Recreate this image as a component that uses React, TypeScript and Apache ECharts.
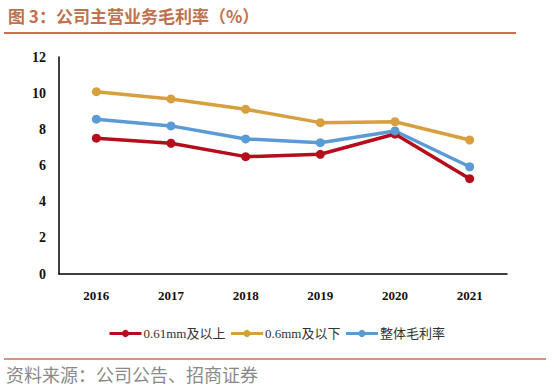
import React, { useEffect, useRef } from "react";
import * as echarts from "echarts";

const years = ["2016", "2017", "2018", "2019", "2020", "2021"];
const above061 = [7.51, 7.23, 6.49, 6.62, 7.74, 5.27];
const below06 = [10.08, 9.68, 9.11, 8.37, 8.42, 7.41];
const overall = [8.56, 8.19, 7.47, 7.26, 7.91, 5.93];
const seriesNames = ["0.61mm及以上", "0.6mm及以下", "整体毛利率"];
const colors = ["#b50d1c", "#d6a03f", "#5b9bd5"];

export default function App() {
  const ref = useRef<HTMLDivElement>(null);
  useEffect(() => {
    if (!ref.current) return;
    const chart = echarts.init(ref.current, null, { renderer: "svg" });
    const datas = [above061, below06, overall];
    chart.setOption({
      animation: false,
      backgroundColor: "#fff",
      grid: { left: 59, right: 47, top: 57, bottom: 113, containLabel: false },
      graphic: [
        {
          type: "text",
          left: 8,
          top: 7,
          style: {
            text: "图 3：公司主营业务毛利率（%）",
            fill: "#c0714c",
            font: "bold 17px Noto Sans CJK SC, sans-serif",
          },
        },
        {
          type: "line",
          shape: { x1: 4, y1: 33, x2: 516, y2: 33 },
          style: { stroke: "#c8724f", lineWidth: 2 },
        },
        {
          type: "line",
          shape: { x1: 4, y1: 359, x2: 546, y2: 359 },
          style: { stroke: "#c8724f", lineWidth: 1.5 },
        },
        {
          type: "text",
          left: 6,
          top: 365,
          style: {
            text: "资料来源：公司公告、招商证券",
            fill: "#8a8a8a",
            font: "18px Noto Sans CJK SC, sans-serif",
          },
        },
      ],
      legend: {
        left: 103,
        top: 322,
        itemWidth: 32,
        itemHeight: 9,
        itemGap: 4,
        data: seriesNames,
        lineStyle: { width: 3 },
        textStyle: {
          fontSize: 13,
          color: "#333",
          fontFamily: "Liberation Serif, Noto Sans CJK SC, serif",
          padding: [0, 0, 0, -3],
        },
      },
      xAxis: {
        type: "category",
        data: years,
        boundaryGap: true,
        axisLine: { lineStyle: { color: "#000", width: 1.5 } },
        axisTick: { show: false },
        axisLabel: {
          color: "#111",
          fontSize: 13,
          fontWeight: "bold",
          fontFamily: "Liberation Serif, serif",
          margin: 15,
        },
      },
      yAxis: {
        type: "value",
        min: 0,
        max: 12,
        interval: 2,
        axisLine: { show: true, lineStyle: { color: "#000", width: 1.5 } },
        axisTick: { show: false },
        splitLine: { show: false },
        axisLabel: {
          color: "#111",
          fontSize: 14,
          fontWeight: "bold",
          fontFamily: "Liberation Serif, serif",
          margin: 13,
        },
      },
      series: seriesNames.map((name, i) => ({
        name,
        type: "line",
        data: datas[i],
        symbol: "circle",
        symbolSize: 9,
        color: colors[i],
        lineStyle: { width: 3.5, color: colors[i] },
        itemStyle: { color: colors[i] },
      })),
    });
    return () => chart.dispose();
  }, []);
  return <div ref={ref} style={{ width: 554, height: 387, position: "absolute", left: 0, top: 0 }} />;
}
